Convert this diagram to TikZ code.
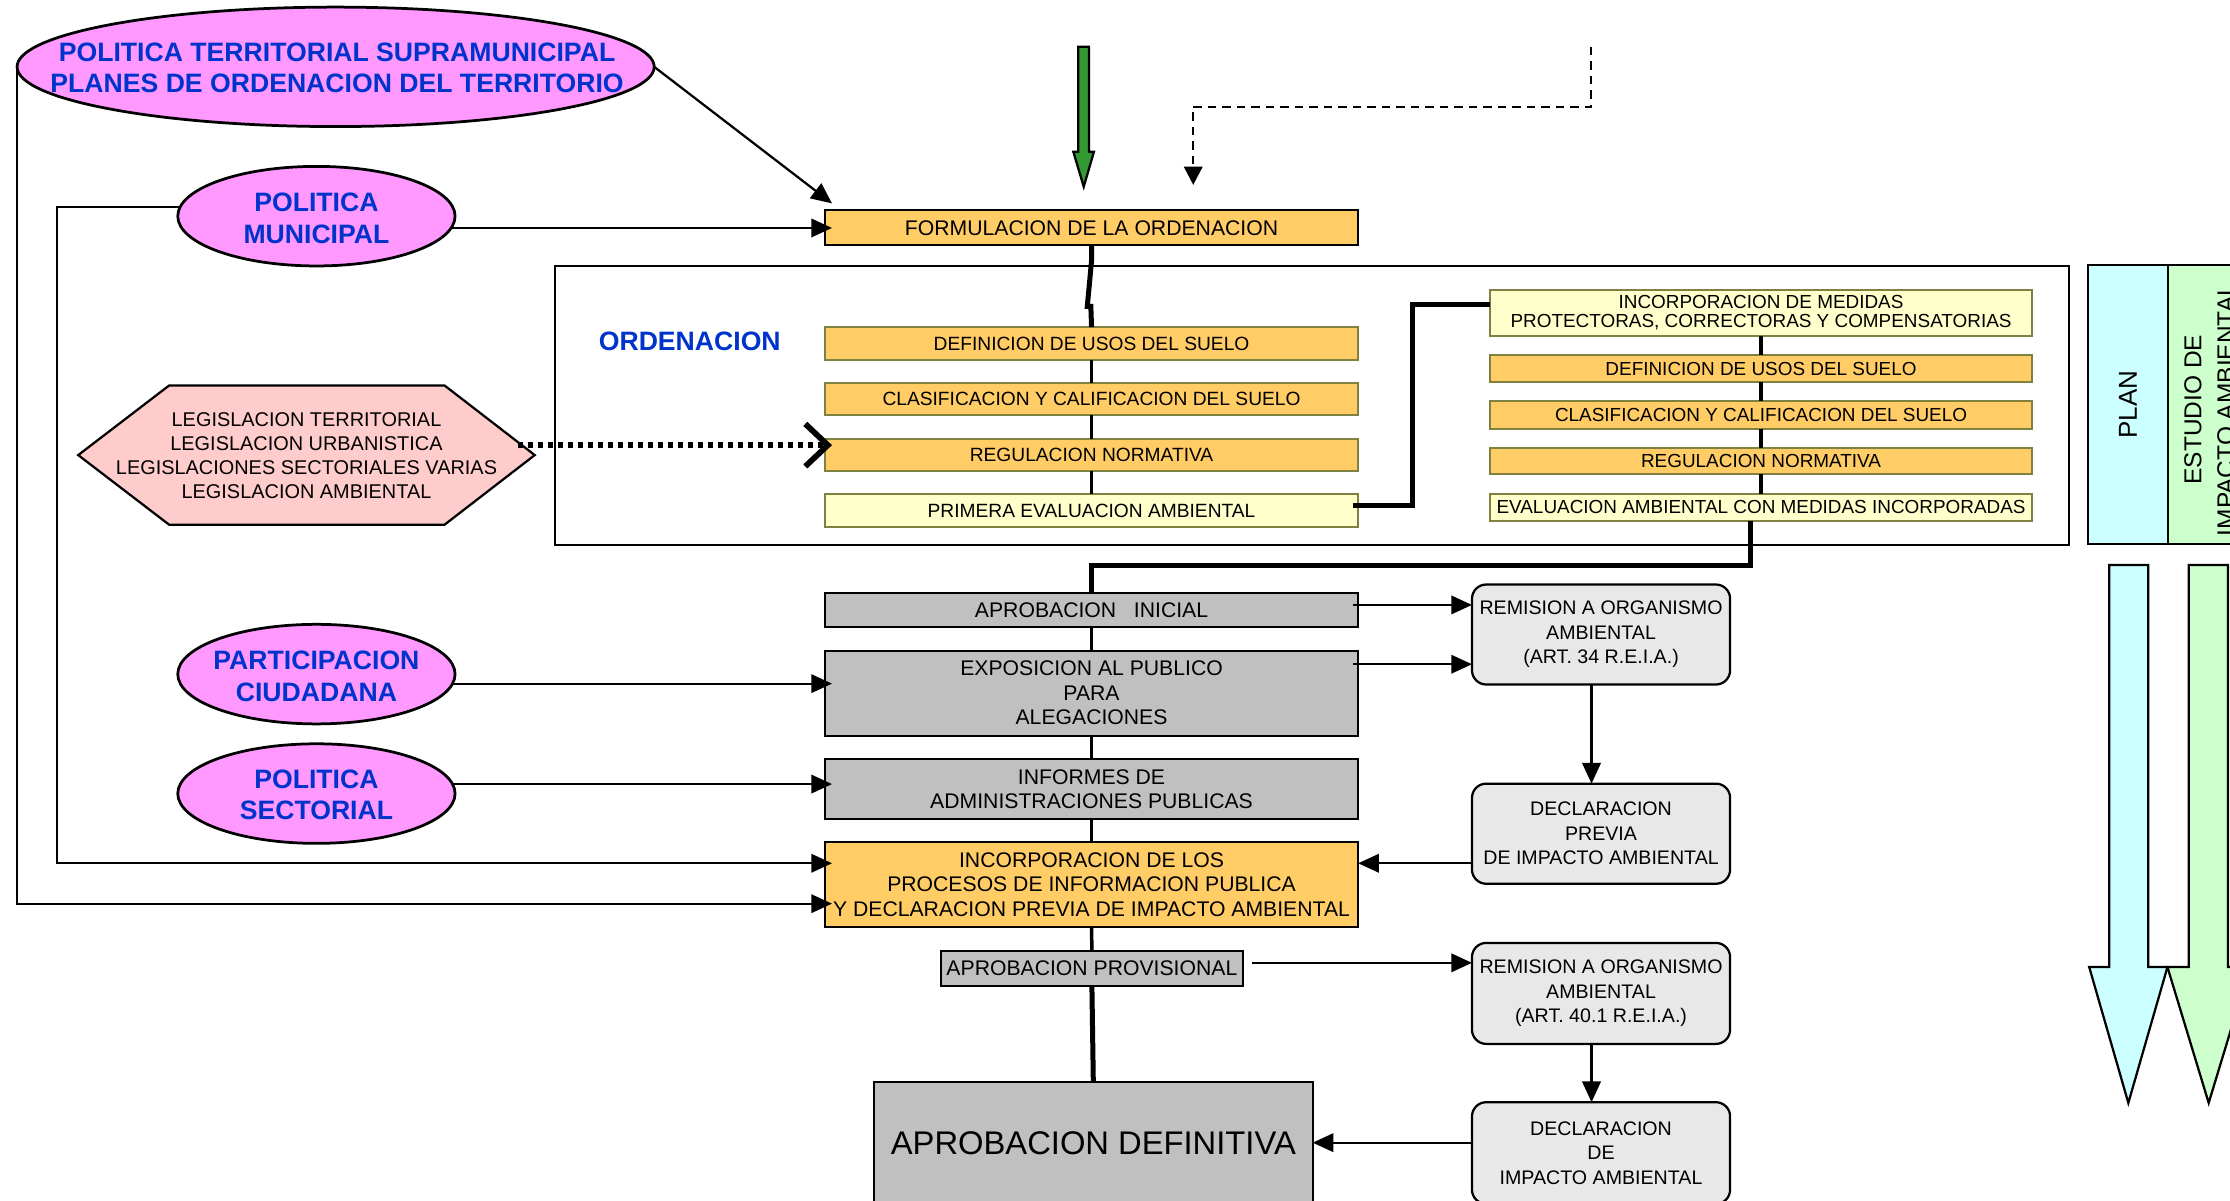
\documentclass[tikz,border=0pt]{standalone}
\usepackage{fontspec}
\setmainfont{Liberation Sans}
\usetikzlibrary{shapes.geometric,arrows.meta,calc}
\definecolor{pinkE}{HTML}{FF99FF}
\definecolor{blueT}{HTML}{0033CC}
\definecolor{orangeB}{HTML}{FFCC66}
\definecolor{yellowB}{HTML}{FFFFCC}
\definecolor{grayB}{HTML}{C0C0C0}
\definecolor{roundB}{HTML}{E8E8E8}
\definecolor{hexB}{HTML}{FFCCCC}
\definecolor{cyanB}{HTML}{CCFFFF}
\definecolor{greenB}{HTML}{CCFFCC}
\definecolor{greenA}{HTML}{339933}
\definecolor{oliveE}{HTML}{808040}
\newcommand\fs[2]{\fontsize{#1}{#2}\selectfont}
\newcommand\bx[7]{\node[#6, minimum width={(#4-#2)*0.02cm}, minimum height={(#5-#3)*0.02cm}] (#1) at ({(#2+#4)/2},{(#3+#5)/2}) {#7};}
\begin{document}
\begin{tikzpicture}[x=0.02cm,y=-0.02cm,
 every node/.style={inner sep=0pt, outer sep=0pt, align=center},
 box/.style={draw=black, line width=0.8pt, rectangle},
 obox/.style={draw=oliveE, line width=0.8pt, rectangle},
 fbox/.style={box, fill=orangeB, font=\fs{8.48}{9.8}},
 gbox/.style={box, fill=grayB, font=\fs{8.48}{9.8}},
 lo/.style={obox, fill=orangeB, font=\fs{7.68}{9}},
 ly/.style={obox, fill=yellowB, font=\fs{7.68}{9}},
 ro/.style={obox, fill=orangeB, font=\fs{7.57}{7.8}},
 ry/.style={obox, fill=yellowB, font=\fs{7.57}{7.8}},
 rbox/.style={draw=black, line width=0.9pt, rectangle, rounded corners=0.2cm, fill=roundB, font=\fs{7.85}{9.8}},
 ell/.style={ellipse, draw=black, line width=1.1pt, fill=pinkE},
 etext/.style={text=blueT, font=\bfseries\fs{10.65}{12.4}},
 arr/.style={line width=0.9pt, -{Triangle[length=8.3pt,width=7.4pt]}},
 arrL/.style={arr, shorten >=-0.1cm},
 con/.style={line width=1.4pt},
 thk/.style={line width=2pt},
]
\useasboundingbox (0,0) rectangle (1568,844);
\clip (0,0) rectangle (1568,844);

% frame of ORDENACION
\draw[line width=0.9pt] (390,187) rectangle (1455,383);
\node[etext] (ordl) at (485,240) {ORDENACION};

% PLAN / ESTUDIO columns
\draw[line width=0.9pt, fill=cyanB] (1468,186.3) rectangle (1524.6,382.7);
\draw[line width=0.9pt, fill=greenB] (1524.6,186.3) rectangle (1600,382.7);
\node[rotate=90, font=\fs{10.4}{11}] (plan) at (1496.3,284.5) {PLAN};
\node[rotate=90, font=\fs{9.8}{13.2}] (eia) at (1553.5,288) {ESTUDIO DE\\IMPACTO AMBIENTAL};

% block arrows
\draw[line width=0.9pt, fill=cyanB] (1483,397.2) -- (1510.5,397.2) -- (1510.5,680) -- (1524,680) -- (1496.5,775.5) -- (1469,680) -- (1483,680) -- cycle;
\draw[line width=0.9pt, fill=greenB] (1539,397.2) -- (1566.5,397.2) -- (1566.5,680) -- (1582,680) -- (1553,775.5) -- (1524,680) -- (1539,680) -- cycle;

% green arrow on top
\draw[line width=0.9pt, fill=greenA] (758.2,32.8) -- (765.7,32.8) -- (765.7,106.7) -- (769.2,106.7) -- (762,131.3) -- (754.7,106.7) -- (758.2,106.7) -- cycle;

% dashed arrow
\coordinate (dashA) at (1119,33);
\coordinate (dashB) at (839,130);
\draw[line width=0.8pt, dash pattern=on 3.4pt off 2.4pt, -{Triangle[length=7.3pt,width=7.4pt]}] (dashA) |- (839,75) -- (dashB);

% ellipses
\node[ell, minimum width={448*0.02cm}, minimum height={84*0.02cm}] (e1) at (236,47) {};
\node[etext] (e1t) at (237,47.7) {POLITICA TERRITORIAL SUPRAMUNICIPAL\\PLANES DE ORDENACION DEL TERRITORIO};
\node[ell, minimum width={195*0.02cm}, minimum height={70*0.02cm}] (e2) at (222.5,152) {};
\node[etext, font=\bfseries\fs{10.65}{12.5}] (e2t) at (222.5,153.6) {POLITICA\\MUNICIPAL};
\node[ell, minimum width={195*0.02cm}, minimum height={70*0.02cm}] (e3) at (222.5,474) {};
\node[etext, font=\bfseries\fs{10.65}{12.5}] (e3t) at (222.5,475.6) {PARTICIPACION\\CIUDADANA};
\node[ell, minimum width={195*0.02cm}, minimum height={70*0.02cm}] (e4) at (222.5,558) {};
\node[etext, font=\bfseries\fs{10.65}{12.5}] (e4t) at (222.5,558.8) {POLITICA\\SECTORIAL};

% hexagon
\draw[line width=0.9pt, fill=hexB] (119,271) -- (312.5,271) -- (376,320) -- (312.5,369) -- (119,369) -- (55,320) -- cycle;
\node[font=\fs{7.97}{9.6}] (hex) at (215.5,320.5) {LEGISLACION TERRITORIAL\\LEGISLACION URBANISTICA\\LEGISLACIONES SECTORIALES VARIAS\\LEGISLACION AMBIENTAL};

% boxes
\bx{form}{580}{148}{955}{172.5}{fbox}{FORMULACION DE LA ORDENACION}
\bx{def}{580}{230}{955}{253}{lo}{DEFINICION DE USOS DEL SUELO}
\bx{clas}{580}{269}{955}{292}{lo}{CLASIFICACION Y CALIFICACION DEL SUELO}
\bx{reg}{580}{308.5}{955}{331}{lo}{REGULACION NORMATIVA}
\bx{prim}{580}{347.5}{955}{370.5}{ly}{PRIMERA EVALUACION AMBIENTAL}

\bx{inc}{1047.5}{203.7}{1429}{236}{ry}{INCORPORACION DE MEDIDAS\\PROTECTORAS, CORRECTORAS Y COMPENSATORIAS}
\bx{defr}{1047.5}{249.7}{1429}{268.5}{ro}{DEFINICION DE USOS DEL SUELO}
\bx{clasr}{1047.5}{282}{1429}{301.3}{ro}{CLASIFICACION Y CALIFICACION DEL SUELO}
\bx{regr}{1047.5}{314.8}{1429}{333.6}{ro}{REGULACION NORMATIVA}
\bx{eva}{1047.5}{347}{1429}{366.4}{ry}{EVALUACION AMBIENTAL CON MEDIDAS INCORPORADAS}

\bx{ini}{580}{416.7}{955}{441}{gbox}{APROBACION\ \ \ INICIAL}
\bx{expo}{580}{457.5}{955}{517.2}{gbox}{EXPOSICION AL PUBLICO\\PARA\\ALEGACIONES}
\bx{inf}{580}{533.8}{955}{576}{gbox}{INFORMES DE\\ADMINISTRACIONES PUBLICAS}
\bx{incp}{580}{591.8}{955}{652}{fbox}{INCORPORACION DE LOS\\PROCESOS DE INFORMACION PUBLICA\\Y DECLARACION PREVIA DE IMPACTO AMBIENTAL}
\bx{prov}{661.5}{668.4}{874}{693}{gbox}{APROBACION PROVISIONAL}
\bx{defi}{614.5}{761}{923}{847}{box, fill=grayB, font=\fs{13.1}{15}}{APROBACION DEFINITIVA}

\bx{rem1}{1035}{411}{1216.5}{481.3}{rbox}{REMISION A ORGANISMO\\AMBIENTAL\\(ART. 34 R.E.I.A.)}
\bx{decp}{1035}{551}{1216.5}{621.4}{rbox}{DECLARACION\\PREVIA\\DE IMPACTO AMBIENTAL}
\bx{rem2}{1035}{663}{1216.5}{734}{rbox}{REMISION A ORGANISMO\\AMBIENTAL\\(ART. 40.1 R.E.I.A.)}
\bx{decd}{1035}{775}{1216.5}{846.5}{rbox}{DECLARACION\\DE\\IMPACTO AMBIENTAL}

% connectors: ellipses -> boxes
\draw[arr] (e1.east) -- ($(form.north west)+(5,-5)$);
\draw[arrL] (e2.-5) -- (form.west |- e2.-5);
\draw[arrL] (e2.176) -| (40,607) -- ($(incp.west)+(0,-14.9)$);
\draw[arrL] (e1.west) |- ($(incp.west)+(0,13.5)$);
\draw[arrL] (e3.-4.4) -- (expo.west |- e3.-4.4);
\draw[arrL] (e4.4.2) -- (inf.west |- e4.4.2);

% dotted arrow from legislation
\coordinate (hexout) at (364,313);
\coordinate (regin) at (585,313);
\draw[line width=2.3pt, dash pattern=on 2pt off 2pt, -{Straight Barb[length=9pt,width=17pt,line width=2.3pt]}] (hexout) -- (regin);

% ordenacion chain
\draw[thk] (form.south) -- ++(0,11) -- ++(-3,32) -- ++(2.5,0) -- (def.north);
\draw[con] (def.south) -- (clas.north);
\draw[con] (clas.south) -- (reg.north);
\draw[con] (reg.south) -- (prim.north);
\draw[thk] ($(prim.east)+(-3.5,-3.3)$) -- ++(41.5,0) |- ($(inc.west)+(0,-5.5)$);
\draw[con] (inc.south) -- (defr.north);
\draw[con] (defr.south) -- (clasr.north);
\draw[con] (clasr.south) -- (regr.north);
\draw[con] (regr.south) -- (eva.north);
\draw[thk] ($(eva.south)+(-7.5,0)$) -- ++(0,31) -| (ini.north);

% middle chain
\draw[con] (ini.south) -- (expo.north);
\draw[con] (expo.south) -- (inf.north);
\draw[con] (inf.south) -- (incp.north);
\draw[con] (incp.south) -- (prov.north);
\draw[thk] (prov.south) -- (defi.north);

% environmental procedure
\draw[arr] ($(ini.east)+(-3.5,-3.5)$) coordinate (a1) -- (a1 -| rem1.west);
\draw[arr] ($(expo.east)+(-3.5,-20.3)$) coordinate (a2) -- (a2 -| rem1.west);
\draw[arr] ($(rem1.south)+(-6.7,0)$) coordinate (a3) -- (a3 |- decp.north);
\draw[arr] ($(decp.west)+(0,20.8)$) coordinate (a4) -- (a4 -| incp.east);
\draw[arr] ($(prov.east)+(6.3,-3.7)$) coordinate (a5) -- (a5 -| rem2.west);
\draw[arr] ($(rem2.south)+(-6.7,0)$) coordinate (a6) -- (a6 |- decd.north);
\draw[arr] ($(decd.west)+(0,-7.3)$) coordinate (a7) -- (a7 -| defi.east);
\end{tikzpicture}
\end{document}
